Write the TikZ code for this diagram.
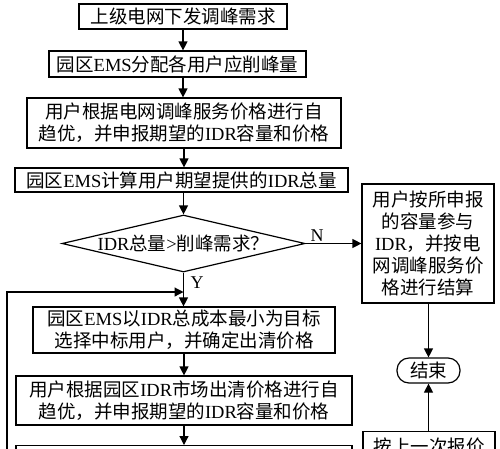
\documentclass[tikz,border=0pt]{standalone}
\usepackage{fontspec}
\setmainfont{Liberation Serif}
\newfontfamily\cjk{Noto Sans CJK SC}
\usetikzlibrary{arrows.meta,shapes.geometric}
\newcommand\lat[1]{{\rmfamily #1}}
\tikzset{
  box/.style={draw, line width=1.2pt, inner sep=0pt, align=center,
    font=\cjk\fontsize{18.5}{22}\selectfont},
  arr/.style={line width=1.2pt, -{Triangle[length=9pt,width=9pt]}},
  lbl/.style={inner sep=0pt, font=\rmfamily\fontsize{18}{20}\selectfont}
}
\begin{document}
\begin{tikzpicture}[x=1pt,y=-1pt]
\useasboundingbox (0,0) rectangle (500,448);
\clip (0,0) rectangle (500,448);
\node[box, minimum width=208pt, minimum height=25pt] (b1) at (183,16.5) {上级电网下发调峰需求};
\node[box, minimum width=257pt, minimum height=26pt] (b2) at (177.5,64) {园区\lat{EMS}分配各用户应削峰量};
\node[box, minimum width=314pt, minimum height=50pt] (b3) at (184,123) {用户根据电网调峰服务价格进行自\\趋优，并申报期望的\lat{IDR}容量和价格};
\node[box, minimum width=333pt, minimum height=24pt] (b4) at (181.5,180) {园区\lat{EMS}计算用户期望提供的\lat{IDR}总量};
\node[box, diamond, minimum width=243pt, minimum height=57pt] (d) at (183.5,243.5) {\makebox[0pt]{\raisebox{-3pt}{\lat{IDR}总量\lat{>}削峰需求？}}};
\node[box, minimum width=302pt, minimum height=46pt] (b5) at (184,330) {园区\lat{EMS}以\lat{IDR}总成本最小为目标\\选择中标用户，并确定出清价格};
\node[box, minimum width=336pt, minimum height=49pt] (b6) at (184,400.5) {用户根据园区\lat{IDR}市场出清价格进行自\\趋优，并申报期望的\lat{IDR}容量和价格};
\node[box, minimum width=336pt, minimum height=50pt, anchor=north] (b7) at (184,445) {};
\node[box, minimum width=132pt, minimum height=119pt] (r1) at (428,243.5) {用户按所申报\\的容量参与\\\lat{IDR}，并按电\\网调峰服务价\\格进行结算};
\node[box, rounded corners=12pt, minimum width=63pt, minimum height=25pt] (end) at (428.5,370.5) {结束};
\node[box, minimum width=132pt, inner ysep=6pt, anchor=north] (r2) at (429,431) {按上一次报价};
\node[lbl] (N) at (317,236) {N};
\node[lbl] (Y) at (197,283) {Y};
\coordinate (fb) at (7,470);
\coordinate (j) at (183.5,292);
\draw[arr] (b1.south) -- (b1.south |- b2.north);
\draw[arr] (b2.south -| b1.south) -- (b1.south |- b3.north);
\draw[arr] (b3.south) -- (b3.south |- b4.north);
\draw[arr] (b4.south -| d.north) -- (d.north);
\draw[arr] (d.south) -- (d.south |- b5.north);
\draw[arr] (d.east) -- (d.east -| r1.west);
\draw[arr] (b5.south) -- (b5.south |- b6.north);
\draw[arr] (b6.south) -- (b6.south |- b7.north);
\draw[arr] (r1.south -| end.north) -- (end.north);
\draw[arr] (r2.north -| end.south) -- (end.south);
\draw[arr] (fb) |- (j);
\end{tikzpicture}
\end{document}
